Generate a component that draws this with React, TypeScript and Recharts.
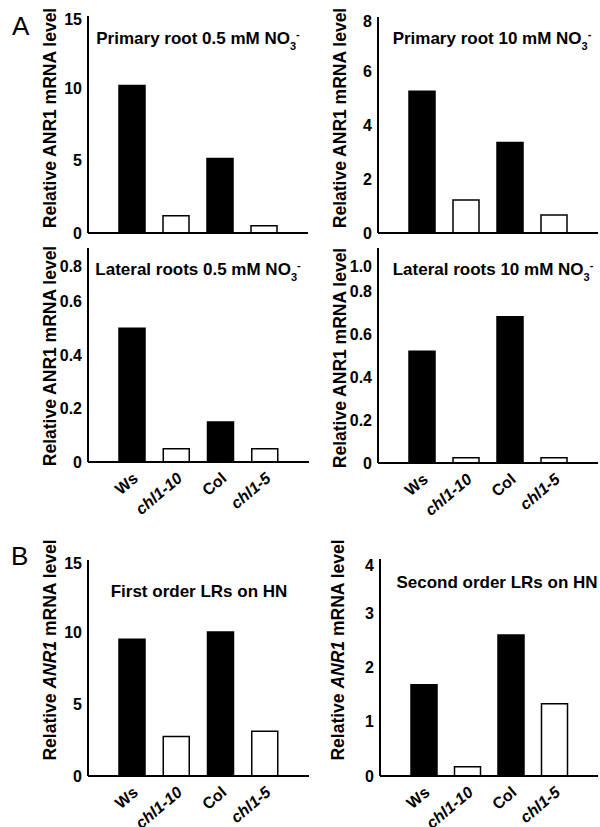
import React from 'react';
import { BarChart, Bar, XAxis, YAxis, Cell, Customized } from 'recharts';

const genotypes = ['Ws', 'chl1-10', 'Col', 'chl1-5'];

const primaryLow = [10.2, 1.2, 5.15, 0.5];
const primaryHigh = [5.25, 1.22, 3.35, 0.67];
const lateralLow = [0.5, 0.05, 0.15, 0.05];
const lateralHigh = [0.52, 0.025, 0.68, 0.025];
const firstOrder = [9.5, 2.75, 10.0, 3.1];
const secondOrder = [1.68, 0.17, 2.6, 1.33];

const ticksPrimaryLow = [0, 5, 10, 15];
const ticksPrimaryHigh = [0, 2, 4, 6, 8];
const ticksLateralLow = [0, 0.2, 0.4, 0.6, 0.8];
const ticksLateralHigh = [0, 0.2, 0.4, 0.6, 0.8, 1.0];
const ticksFirst = [0, 5, 10, 15];
const ticksSecond = [0, 1, 2, 3, 4];

const FONT = '"Liberation Sans", Arial, Helvetica, sans-serif';
const fmtInt = (v: number) => String(v);
const fmtDec = (v: number) => (v === 0 ? '0' : v.toFixed(1));

const NO3 = (label: string) => (
  <>
    {label}
    <tspan fontSize={11} dy={6}>3</tspan>
    <tspan fontSize={11} dy={-12}>-</tspan>
  </>
);

const yLabelPlain = <>Relative ANR1 mRNA level</>;
const yLabelItalic = (
  <>
    Relative <tspan fontStyle="italic">ANR1</tspan> mRNA level
  </>
);

type PanelProps = {
  values: number[];
  ticks: number[];
  fmt: (v: number) => string;
  x0: number; y0: number; w: number; h: number;
  pl: number; pt: number; pr: number; pb: number;
  xLabels: boolean;
  topShift: number;
  title: React.ReactNode; tx: number; ty: number;
  ylabel: React.ReactNode; lx: number; ly: number;
  letter?: string; letterX?: number; letterY?: number;
};

function Panel(p: PanelProps) {
  const data = genotypes.map((g, i) => ({ g, v: p.values[i] }));
  const max = p.ticks[p.ticks.length - 1];
  const bottomSpace = p.y0 + p.h - p.pb;
  const axisStyle = { stroke: '#000', strokeWidth: 2 };

  const yTick = (props: any) => {
    const { x, y, payload } = props;
    const dy = payload.value === max ? p.topShift : 0;
    return (
      <text x={x} y={y + dy} dy="0.355em" textAnchor="end" fontSize={16} fontWeight="bold" fontFamily={FONT} fill="#000">
        {p.fmt(payload.value)}
      </text>
    );
  };

  const xTick = (props: any) => {
    const { x, y, payload } = props;
    const italic = String(payload.value).startsWith('chl1');
    const ax = x + 7;
    const ay = y + 18;
    return (
      <text x={ax} y={ay} transform={`rotate(-40 ${ax} ${ay})`} textAnchor="end" fontSize={16} fontWeight="bold"
        fontStyle={italic ? 'italic' : 'normal'} fontFamily={FONT} fill="#000">
        {payload.value}
      </text>
    );
  };

  const lxr = p.lx - p.x0 + 6;
  const lyr = p.ly - p.y0;

  const overlay = () => (
    <g>
      <text x={p.tx - p.x0} y={p.ty - p.y0} textAnchor="middle" fontSize={17} fontWeight="bold" fontFamily={FONT} fill="#000">
        {p.title}
      </text>
      <text x={lxr} y={lyr} transform={`rotate(-90 ${lxr} ${lyr})`} textAnchor="middle" fontSize={17.5} fontWeight="bold" fontFamily={FONT} fill="#000">
        {p.ylabel}
      </text>
      {p.letter ? (
        <text x={(p.letterX ?? 0) - p.x0} y={(p.letterY ?? 0) - p.y0} fontSize={26} fontFamily={FONT} fill="#000">
          {p.letter}
        </text>
      ) : null}
    </g>
  );

  return (
    <div style={{ position: 'absolute', left: p.x0, top: p.y0, width: p.w, height: p.h }}>
      <BarChart
        width={p.w}
        height={p.h}
        data={data}
        margin={{ top: p.pt - p.y0, right: p.x0 + p.w - p.pr, bottom: 0, left: 0 }}
        barSize={26}
      >
        <XAxis
          dataKey="g"
          xAxisId="b"
          height={bottomSpace}
          padding={{ left: 22, right: 22 }}
          interval={0}
          tick={p.xLabels ? xTick : false}
          tickLine={false}
          tickSize={0}
          tickMargin={0}
          axisLine={axisStyle}
        />
        <XAxis
          dataKey="g"
          xAxisId="t"
          orientation="top"
          height={0}
          padding={{ left: 22, right: 22 }}
          tick={false}
          tickLine={false}
          axisLine={axisStyle}
        />
        <YAxis
          yAxisId="l"
          width={p.pl - p.x0}
          domain={[0, max]}
          ticks={p.ticks}
          interval={0}
          tick={yTick}
          tickLine={false}
          tickSize={0}
          tickMargin={6}
          axisLine={axisStyle}
        />
        <YAxis
          yAxisId="r"
          orientation="right"
          mirror
          width={0}
          domain={[0, max]}
          ticks={p.ticks}
          interval={0}
          tick={false}
          tickSize={5}
          tickLine={{ stroke: '#000', strokeWidth: 1.5 }}
          axisLine={axisStyle}
        />
        <Bar dataKey="v" xAxisId="b" yAxisId="l" isAnimationActive={false} stroke="#000" strokeWidth={1.5}>
          {data.map((d) => (
            <Cell key={d.g} fill={d.g.startsWith('chl1') ? '#fff' : '#000'} />
          ))}
        </Bar>
        <Customized component={overlay} />
      </BarChart>
    </div>
  );
}

export default function App() {
  return (
    <div style={{ position: 'absolute', left: 0, top: 0, width: 600, height: 827, background: '#fff', overflow: 'hidden', fontFamily: FONT }}>
      <Panel values={primaryLow} ticks={ticksPrimaryLow} fmt={fmtInt}
        x0={0} y0={0} w={320} h={245} pl={88} pt={16} pr={308} pb={233}
        xLabels={false} topShift={3}
        title={NO3('Primary root 0.5 mM NO')} tx={198} ty={44}
        ylabel={yLabelPlain} lx={50} ly={118}
        letter="A" letterX={12} letterY={35} />
      <Panel values={primaryHigh} ticks={ticksPrimaryHigh} fmt={fmtInt}
        x0={290} y0={0} w={310} h={245} pl={378} pt={17} pr={598} pb={233}
        xLabels={false} topShift={4}
        title={NO3('Primary root 10 mM NO')} tx={492} ty={44}
        ylabel={yLabelPlain} lx={340} ly={118} />
      <Panel values={lateralLow} ticks={ticksLateralLow} fmt={fmtDec}
        x0={0} y0={236} w={320} h={300} pl={88} pt={248} pr={309} pb={462}
        xLabels={true} topShift={18}
        title={NO3('Lateral roots 0.5 mM NO')} tx={198} ty={275}
        ylabel={yLabelPlain} lx={50} ly={356} />
      <Panel values={lateralHigh} ticks={ticksLateralHigh} fmt={fmtDec}
        x0={290} y0={236} w={310} h={300} pl={378} pt={248} pr={598} pb={463}
        xLabels={true} topShift={18}
        title={NO3('Lateral roots 10 mM NO')} tx={493} ty={275}
        ylabel={yLabelPlain} lx={340} ly={358} />
      <Panel values={firstOrder} ticks={ticksFirst} fmt={fmtInt}
        x0={0} y0={540} w={320} h={287} pl={88} pt={560} pr={309} pb={776}
        xLabels={true} topShift={3}
        title={<>First order LRs on HN</>} tx={199} ty={597}
        ylabel={yLabelItalic} lx={50} ly={650}
        letter="B" letterX={11} letterY={565} />
      <Panel values={secondOrder} ticks={ticksSecond} fmt={fmtInt}
        x0={290} y0={540} w={310} h={287} pl={380} pt={559} pr={598} pb={776}
        xLabels={true} topShift={6}
        title={<>Second order LRs on HN</>} tx={497} ty={588}
        ylabel={yLabelItalic} lx={338} ly={650} />
    </div>
  );
}
